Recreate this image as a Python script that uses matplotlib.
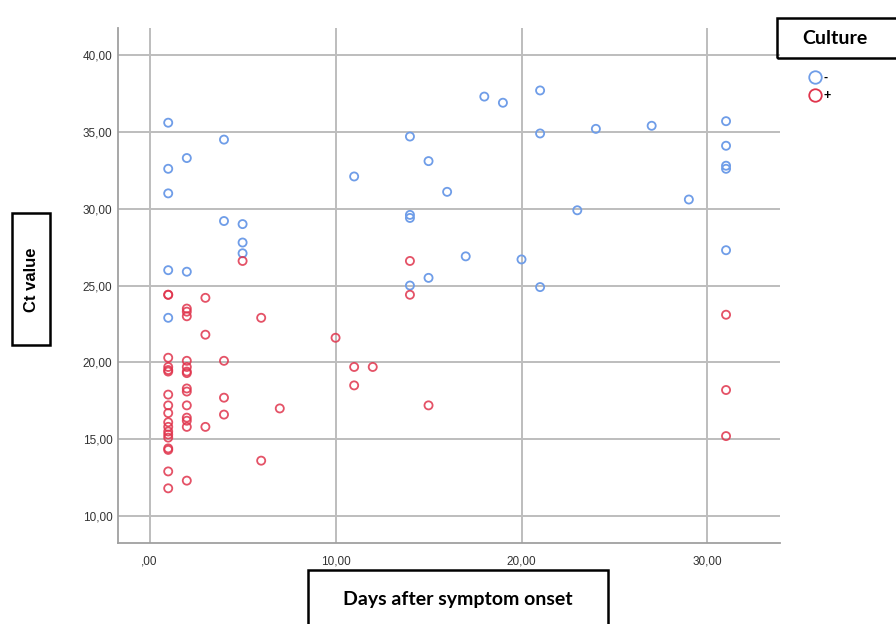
import matplotlib
matplotlib.use('Agg')
import matplotlib.pyplot as plt
from matplotlib.patches import Rectangle
from matplotlib.lines import Line2D
from matplotlib.ticker import FuncFormatter

# Culture negative (blue)
days_neg = [1, 1, 1, 1, 1,
            2, 2,
            4, 4,
            5, 5, 5,
            11,
            14, 14, 14, 14,
            15, 15,
            16, 17, 18, 19, 20,
            21, 21, 21,
            23, 24, 27, 29,
            31, 31, 31, 31, 31]
ct_neg = [35.6, 32.6, 31.0, 26.0, 22.9,
          33.3, 25.9,
          34.5, 29.2,
          29.0, 27.8, 27.1,
          32.1,
          34.7, 29.6, 29.4, 25.0,
          33.1, 25.5,
          31.1, 26.9, 37.3, 36.9, 26.7,
          37.7, 34.9, 24.9,
          29.9, 35.2, 35.4, 30.6,
          35.7, 34.1, 32.8, 32.6, 27.3]

# Culture positive (red)
days_pos = [1] * 18 + [2] * 14 + [3, 3, 3, 4, 4, 4, 5, 6, 6, 7, 10, 11, 11, 12, 14, 14, 15, 31, 31, 31]
ct_pos = [24.4, 24.4, 20.3, 19.7, 19.5, 19.4, 17.9, 17.2, 16.7, 16.1, 15.8, 15.5, 15.3, 15.1, 14.4, 14.3, 12.9, 11.8,
          23.5, 23.3, 23.0, 20.1, 19.7, 19.4, 19.3, 18.3, 18.1, 17.2, 16.4, 16.2, 15.8, 12.3,
          24.2, 21.8, 15.8,
          20.1, 17.7, 16.6,
          26.6,
          22.9, 13.6,
          17.0,
          21.6,
          19.7, 18.5,
          19.7,
          26.6, 24.4,
          17.2,
          23.1, 18.2, 15.2]

x_ticks = [0, 10, 20, 30]
y_ticks = [10, 15, 20, 25, 30, 35, 40]
legend_labels = ['-', '+']

blue = '#6f9de8'
red = '#e0344c'

fig = plt.figure(figsize=(8.96, 6.24), dpi=100)
ax = fig.add_axes([0.1317, 0.1298, 0.7388, 0.8252])

ax.scatter(days_neg, ct_neg, s=34, facecolors='none', edgecolors=blue, linewidths=1.3, zorder=3)
ax.scatter(days_pos, ct_pos, s=34, facecolors='none', edgecolors=red, linewidths=1.3, alpha=0.85, zorder=3)

ax.set_xlim(-1.7, 33.9)
ax.set_ylim(8.24, 41.76)
ax.set_xticks(x_ticks)
ax.set_yticks(y_ticks)


def comma_fmt(v, pos):
    s = f'{v:.2f}'.replace('.', ',')
    if s.startswith('0,'):
        s = s[1:]
    return s


ax.xaxis.set_major_formatter(FuncFormatter(comma_fmt))
ax.yaxis.set_major_formatter(FuncFormatter(comma_fmt))
ax.tick_params(length=0, labelsize=8.5, labelcolor='#333333')
ax.tick_params(axis='x', pad=9)
ax.tick_params(axis='y', pad=4)
for lab in ax.get_xticklabels() + ax.get_yticklabels():
    lab.set_family('Liberation Sans')

ax.grid(True, color='#bdbdbd', linewidth=1.4)
ax.set_axisbelow(True)
for side in ['top', 'right']:
    ax.spines[side].set_visible(False)
for side in ['left', 'bottom']:
    ax.spines[side].set_color('#a0a0a0')
    ax.spines[side].set_linewidth(1.3)

W, H = 896, 624


def box(x0, y0, x1, y1):
    fig.patches.append(Rectangle((x0 / W, 1 - y1 / H), (x1 - x0) / W, (y1 - y0) / H,
                                 transform=fig.transFigure, fill=False,
                                 edgecolor='black', linewidth=1.8))


# axis title boxes
box(12, 213, 50, 345)
fig.text(31 / W, 1 - 280 / H, 'Ct value', rotation=90, ha='center', va='center',
         fontsize=12, fontweight='bold', family='Liberation Sans')
box(308, 570, 608, 630)
fig.text(458 / W, 1 - 599 / H, 'Days after symptom onset', ha='center', va='center',
         fontsize=14, fontweight='bold', family='Lato')
box(777, 18, 900, 58)
fig.text(835 / W, 1 - 39 / H, 'Culture', ha='center', va='center',
         fontsize=14, fontweight='bold', family='Lato')

handles = [Line2D([], [], linestyle='none', marker='o', markersize=9, markerfacecolor='none',
                  markeredgecolor=c, markeredgewidth=1.3) for c in (blue, red)]
fig.legend(handles, legend_labels, loc='upper left', bbox_to_anchor=(803 / W, 1 - 66 / H),
           frameon=False, handlelength=0.9, handletextpad=0.2, labelspacing=0.45,
           borderpad=0, prop={'family': 'Liberation Sans', 'size': 9, 'weight': 'bold'})

fig.savefig('out.png', dpi=100)
